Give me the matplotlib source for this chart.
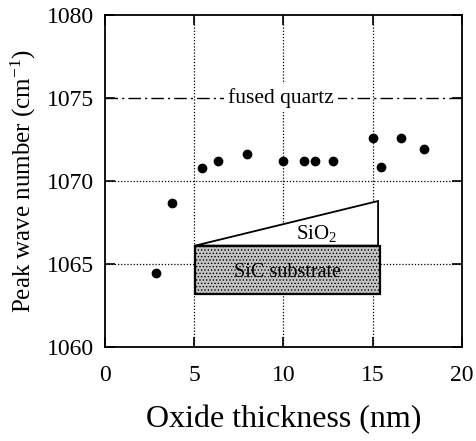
import numpy as np
import matplotlib.pyplot as plt
import matplotlib.patches as mpatches

plt.rcParams['font.family'] = ['Liberation Serif', 'DejaVu Serif']
plt.rcParams['mathtext.fontset'] = 'custom'
plt.rcParams['mathtext.rm'] = 'Liberation Serif'
plt.rcParams['mathtext.it'] = 'Liberation Serif:italic'
plt.rcParams['hatch.color'] = '#9a9a9a'
plt.rcParams['hatch.linewidth'] = 0.6

# data
thickness = [2.86, 3.76, 5.44, 6.36, 7.96, 9.98, 11.16, 11.80, 12.81, 15.05, 15.46, 16.60, 17.89]
wavenumber = [1064.45, 1068.68, 1070.79, 1071.19, 1071.62, 1071.21, 1071.21, 1071.21, 1071.21,
              1072.56, 1070.81, 1072.56, 1071.90]
quartz_level = 1075.0
x_ticks = [0, 5, 10, 15, 20]
y_ticks = [1060, 1065, 1070, 1075, 1080]

fig = plt.figure(figsize=(4.77, 4.41), dpi=100)
ax = fig.add_axes([0.220, 0.214, 0.748, 0.752])

# dotted grid
for xv in [5, 10, 15]:
    ax.axvline(xv, color='black', lw=0.9, ls=(0, (1, 1.5)), zorder=1)
for yv in [1065, 1070]:
    ax.axhline(yv, color='black', lw=0.9, ls=(0, (1, 1.5)), zorder=1)

# fused quartz reference line
ax.axhline(quartz_level, color='black', lw=1.0, ls=(0, (9, 3, 1.5, 3)), zorder=1)
ax.text(9.85, quartz_level, 'fused quartz', ha='center', va='center', fontsize=15.5,
        bbox=dict(facecolor='white', edgecolor='none', pad=3), zorder=3)

# sample sketch: SiO2 wedge on SiC substrate
wedge = mpatches.Polygon([[5.06, 1066.09], [15.31, 1068.78], [15.31, 1066.09]], closed=True,
                         facecolor='white', edgecolor='black', lw=1.3, zorder=4)
ax.add_patch(wedge)
box = mpatches.Rectangle((5.06, 1063.17), 10.36, 2.92, facecolor='#c4c4c4',
                         edgecolor='black', lw=1.6, hatch='.....', zorder=5)
ax.add_patch(box)
ax.text(11.85, 1066.8, 'SiO$_2$', ha='center', va='center', fontsize=15, zorder=6)
ax.text(10.25, 1064.45, 'SiC substrate', ha='center', va='center', fontsize=14.5, zorder=6)

ax.plot(thickness, wavenumber, 'o', color='black', ms=6, zorder=7)

ax.set_xlim(0, 20)
ax.set_ylim(1060, 1080)
ax.set_xticks(x_ticks)
ax.set_yticks(y_ticks)
ax.tick_params(direction='in', length=7, width=1.2, labelsize=17, top=True, right=True)
ax.tick_params(axis='x', pad=13)
ax.tick_params(axis='y', pad=8)
for s in ax.spines.values():
    s.set_linewidth(1.3)

ax.set_xlabel('Oxide thickness (nm)', fontsize=23, labelpad=14)
ax.set_ylabel('Peak wave number (cm$^{\\mathregular{-1}}$)', fontsize=18, labelpad=6)

fig.savefig('out.png', dpi=100)
